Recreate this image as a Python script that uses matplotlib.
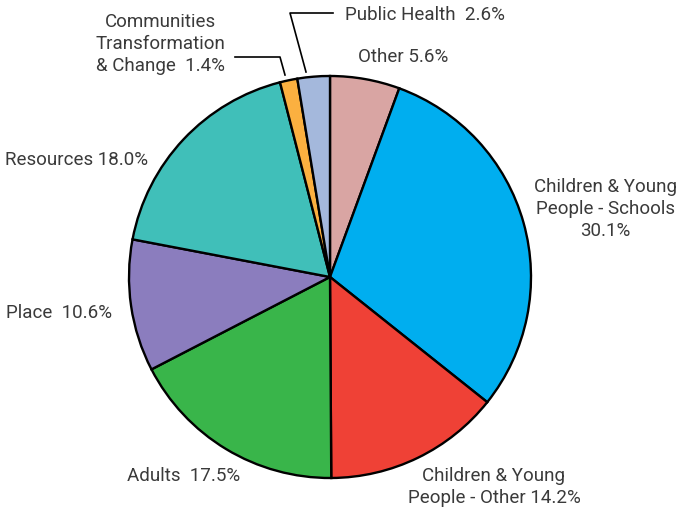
import matplotlib.pyplot as plt

labels = ["Other", "Children & Young People - Schools", "Children & Young People - Other",
          "Adults", "Place", "Resources", "Communities Transformation & Change", "Public Health"]
shares = [5.6, 30.1, 14.2, 17.5, 10.6, 18.0, 1.4, 2.6]
colors = ["#D9A5A3", "#00AEEF", "#EF4136", "#39B54A", "#8B7DBE", "#40BFB9", "#FBB040", "#A4B8DC"]

W, H = 689, 514
fig = plt.figure(figsize=(W / 100, H / 100), dpi=100)
ax = fig.add_axes([0, 0, 1, 1])
ax.axis("off")

ax.pie(shares, colors=colors, startangle=90, counterclock=False,
       center=(330, H - 277), radius=201,
       wedgeprops=dict(edgecolor="black", linewidth=1.7))
ax.set_xlim(0, W)
ax.set_ylim(0, H)
ax.set_aspect("equal")

tc = "#3a3a3a"
fs = 13.5
plt.rcParams["font.family"] = ["Roboto", "DejaVu Sans"]

def txt(x, y, s, ha="center"):
    ax.text(x, H - y, s, ha=ha, va="center", fontsize=fs, color=tc,
            linespacing=1.3)

txt(403, 57, "Other 5.6%")
txt(605, 209, "Children & Young\nPeople - Schools\n30.1%")
txt(494, 487, "Children & Young\nPeople - Other 14.2%")
txt(127, 476, "Adults  17.5%", ha="left")
txt(6, 313, "Place  10.6%", ha="left")
txt(5, 160, "Resources 18.0%", ha="left")
txt(160, 44, "Communities\nTransformation\n& Change  1.4%")
txt(345, 15, "Public Health  2.6%", ha="left")

# leader lines
ax.plot([333, 290, 306], [H - 13, H - 13, H - 72], color="black", lw=1.2)
ax.plot([235, 280, 285], [H - 57, H - 57, H - 75], color="black", lw=1.2)

fig.savefig("out.png", dpi=100)
